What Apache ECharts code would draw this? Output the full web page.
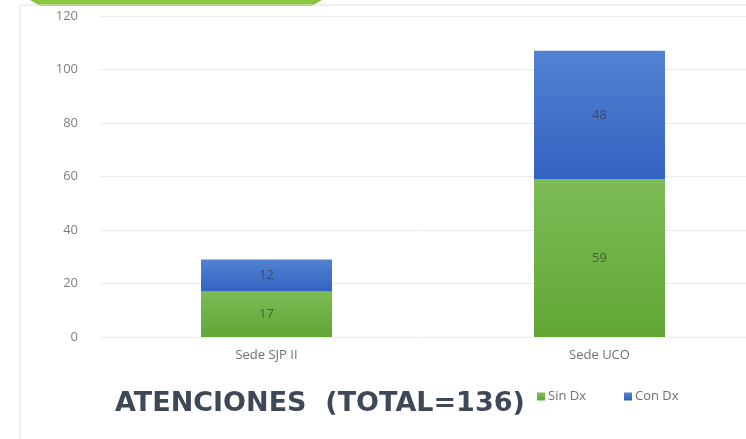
<!DOCTYPE html>
<html>
<head>
    <meta charset='utf-8' />
    <title>atenciones</title>
    <script src="https://cdn.jsdelivr.net/npm/echarts@6/dist/echarts.min.js"></script>
</head>
<body style='margin:0;width: 746px;height:439px;background:#fff;'>
<div id='bar' style='width:746px;height:439px;'></div>

<script type='text/javascript'>
    // datos
    var sedes = ['Sede SJP II', 'Sede UCO'];
    var sinDx = [17, 59];
    var conDx = [12, 48];
    var yTicks = [0, 20, 40, 60, 80, 100, 120];

    var chart = echarts.init(document.getElementById('bar'));

    function grad(top, bottom) {
        return new echarts.graphic.LinearGradient(0, 0, 0, 1, [
            { offset: 0, color: top },
            { offset: 1, color: bottom }
        ]);
    }

    var option = {
        backgroundColor: '#fff',
        color: ['#70ad47', '#4472c4'],
        textStyle: { fontFamily: 'Open Sans' },
        title: {
            text: 'ATENCIONES  (TOTAL=136)',
            left: 110,
            top: 385,
            textStyle: { fontSize: 27, fontWeight: 'bold', color: '#3e4858', fontFamily: 'DejaVu Sans' }
        },
        legend: {
            data: ['Sin Dx', 'Con Dx'],
            left: 532,
            top: 385,
            itemWidth: 8,
            itemHeight: 8,
            itemGap: 38,
            icon: 'rect',
            textStyle: { fontSize: 13, color: '#707070', padding: [0, 0, 0, -2] }
        },
        graphic: [
            {
                type: 'polygon',
                shape: { points: [[30, 0], [322, 0], [312, 6], [40, 6]] },
                style: { fill: '#8cc63f' }
            },
            {
                type: 'polyline',
                shape: { points: [[20, 439], [20, 5], [746, 5]] },
                style: { stroke: '#e2e2e2', lineWidth: 1, fill: null }
            }
        ],
        grid: { left: 100, width: 666, top: 16, bottom: 102, outerBoundsMode: 'none' },
        xAxis: {
            type: 'category',
            data: sedes,
            axisLine: { show: false },
            axisTick: { show: false },
            axisLabel: { color: '#707070', fontSize: 13, margin: 12 }
        },
        yAxis: {
            type: 'value',
            min: yTicks[0],
            max: yTicks[yTicks.length - 1],
            interval: 20,
            axisLine: { show: false },
            axisTick: { show: false },
            axisLabel: { color: '#808080', fontSize: 13, margin: 22 },
            splitLine: { lineStyle: { color: '#ececec' } }
        },
        series: [
            {
                name: 'Sin Dx',
                type: 'bar',
                stack: 'total',
                barWidth: 131,
                data: sinDx,
                itemStyle: { color: grad('#7dbb56', '#62a636') },
                label: { show: true, position: 'inside', color: '#44603a', fontSize: 13 }
            },
            {
                name: 'Con Dx',
                type: 'bar',
                stack: 'total',
                barWidth: 131,
                data: conDx,
                itemStyle: { color: grad('#5283d2', '#3462c2') },
                label: { show: true, position: 'inside', color: '#384a72', fontSize: 13 }
            }
        ]
    };
    chart.setOption(option);
</script>
</body>
</html>
